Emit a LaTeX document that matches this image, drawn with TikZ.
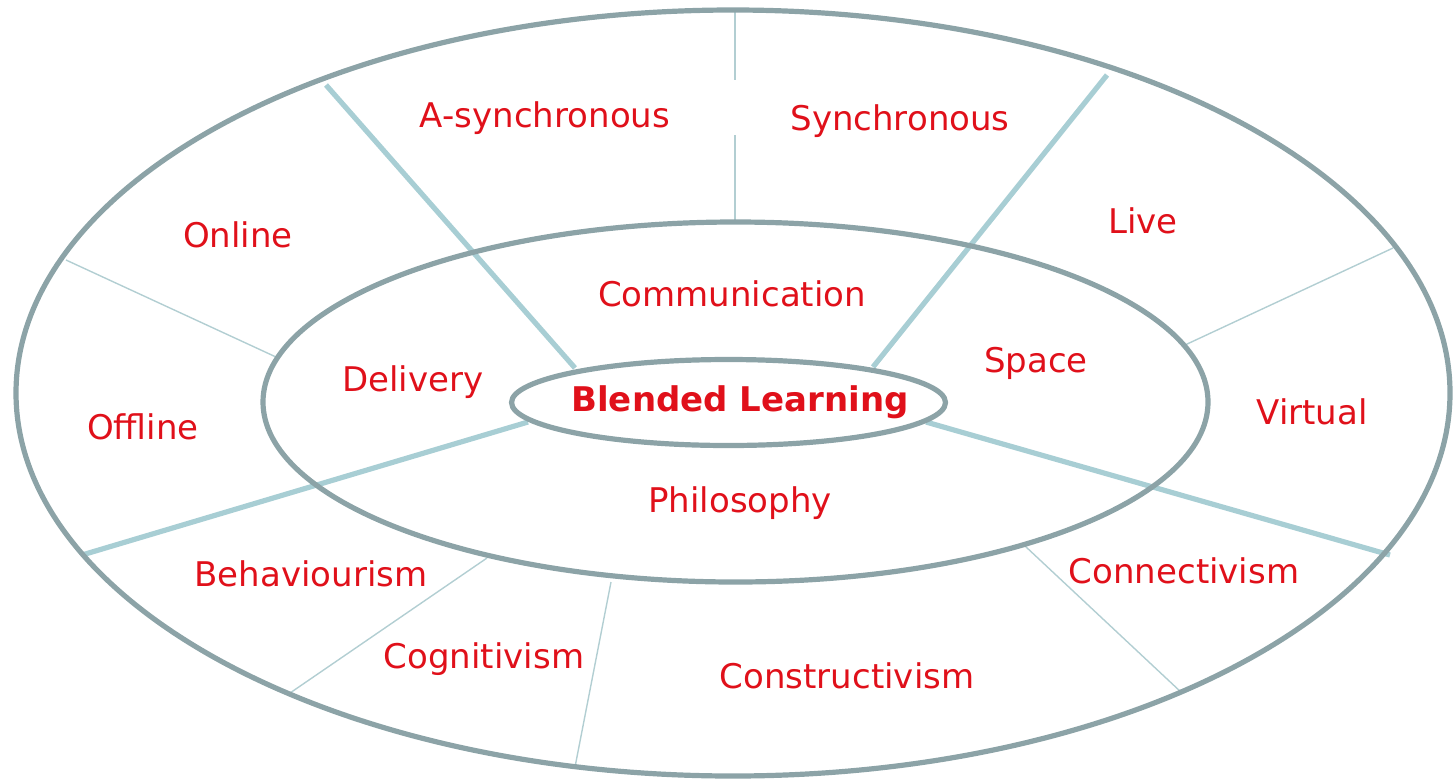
\documentclass[tikz,border=0pt]{standalone}
\usepackage{fontspec}
\setmainfont{DejaVu Sans}
\definecolor{ringc}{RGB}{140,163,167}
\definecolor{spokec}{RGB}{168,206,212}
\definecolor{thinc}{RGB}{178,206,210}
\definecolor{txtc}{RGB}{224,16,26}
\begin{document}
\begin{tikzpicture}[x=0.5pt,y=-0.5pt,
  ring/.style={draw=ringc,line width=2.6pt},
  spoke/.style={draw=spokec,line width=2.6pt},
  thinline/.style={draw=thinc,line width=0.7pt},
  lbl/.style={text=txtc,font=\fontsize{17}{20}\selectfont,inner sep=0pt},
  mainlbl/.style={text=txtc,font=\fontsize{17}{20}\selectfont\bfseries,inner sep=0pt}]
\useasboundingbox (0,0) rectangle (1454,782);
% endpoints
\coordinate (s1a) at (575,368); \coordinate (s1b) at (326,85);
\coordinate (s2a) at (873,367); \coordinate (s2b) at (1107,75);
\coordinate (s3a) at (528,422); \coordinate (s3b) at (82,555);
\coordinate (s4a) at (926,422); \coordinate (s4b) at (1390,555);
\coordinate (v1a) at (735,12); \coordinate (v1b) at (735,80);
\coordinate (v2a) at (735,135); \coordinate (v2b) at (735,222);
\coordinate (t1a) at (66,260); \coordinate (t1b) at (276,357);
\coordinate (t2a) at (1185,345); \coordinate (t2b) at (1393,248);
\coordinate (t3a) at (290,693); \coordinate (t3b) at (487,558);
\coordinate (t4a) at (575,767); \coordinate (t4b) at (611,582);
\coordinate (t5a) at (1025,546); \coordinate (t5b) at (1182,693);
% thin separators
\draw[thinline] (v1a) -- (v1b);
\draw[thinline] (v2a) -- (v2b);
\draw[thinline] (t1a) -- (t1b);
\draw[thinline] (t2a) -- (t2b);
\draw[thinline] (t3a) -- (t3b);
\draw[thinline] (t4a) -- (t4b);
\draw[thinline] (t5a) -- (t5b);
% thick spokes
\draw[spoke] (s1a) -- (s1b);
\draw[spoke] (s2a) -- (s2b);
\draw[spoke] (s3a) -- (s3b);
\draw[spoke] (s4a) -- (s4b);
% rings
\draw[ring] (733,393) ellipse [x radius=717, y radius=383];
\draw[ring] (735.5,402) ellipse [x radius=472.5, y radius=180];
\draw[ring] (728.5,402.5) ellipse [x radius=217, y radius=43];
% labels
\node[mainlbl] (bl) at (740,402) {Blended Learning};
\node[lbl] (asy) at (545,118) {A-synchronous};
\node[lbl] (syn) at (900,121) {Synchronous};
\node[lbl] (onl) at (238,235) {Online};
\node[lbl] (liv) at (1143,221) {Live};
\node[lbl] (com) at (732,294) {Communication};
\node[lbl] (del) at (413,382) {Delivery};
\node[lbl] (spa) at (1036,363) {Space};
\node[lbl] (off) at (143,427) {Offline};
\node[lbl] (vir) at (1312,412) {Virtual};
\node[lbl] (phi) at (740,503) {Philosophy};
\node[lbl] (beh) at (311,574) {Behaviourism};
\node[lbl] (cnn) at (1184,571) {Connectivism};
\node[lbl] (cog) at (484,659) {Cognitivism};
\node[lbl] (cst) at (847,676) {Constructivism};
\end{tikzpicture}
\end{document}
